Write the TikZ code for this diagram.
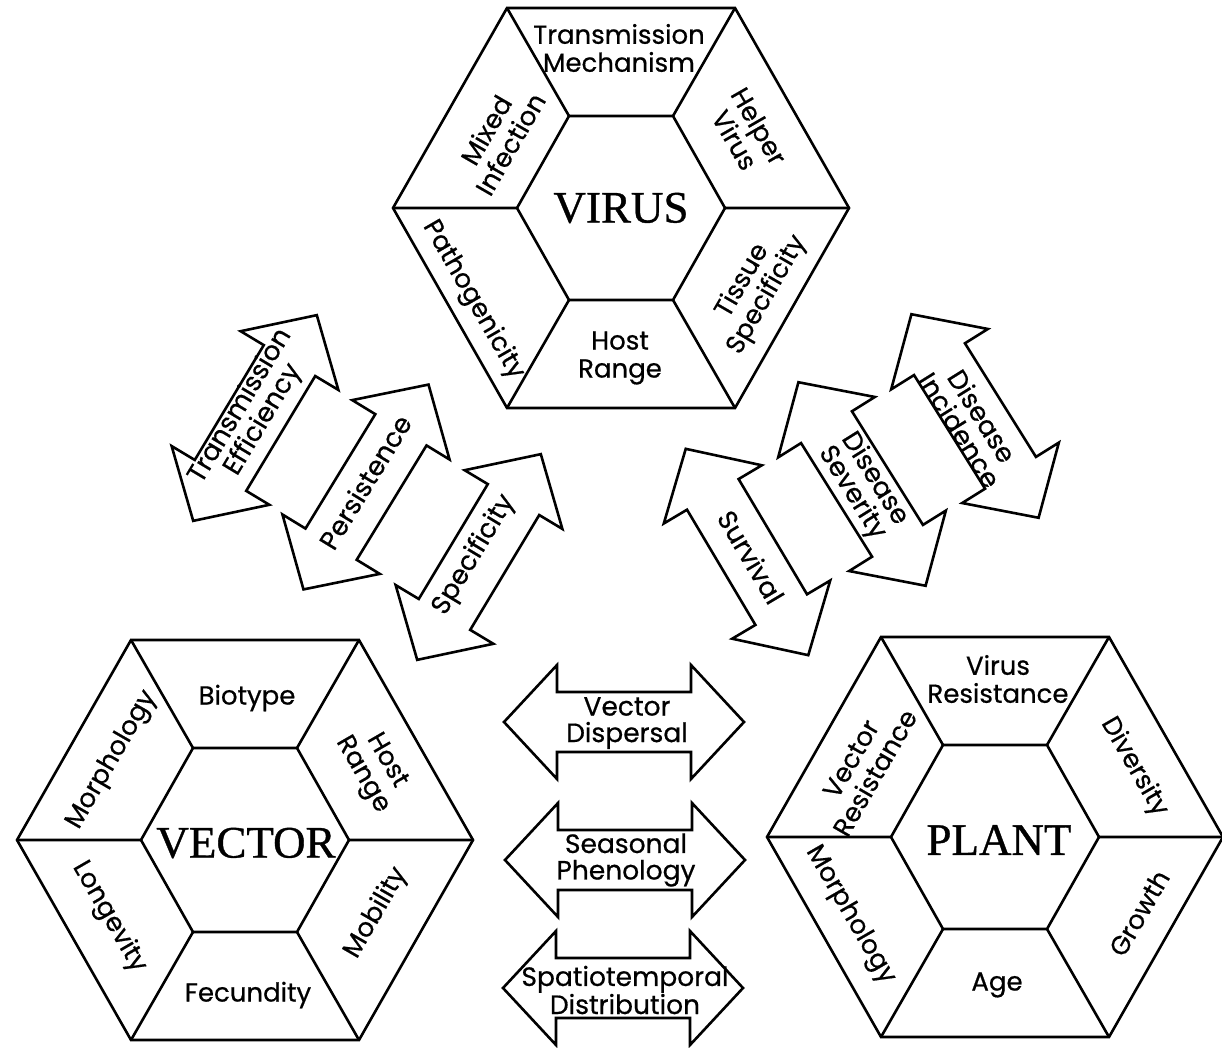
\documentclass[tikz,border=0pt]{standalone}
\usepackage{fontspec}
\newfontfamily\labfont[FakeBold=0.6]{Poppins}
\newfontfamily\bigfont[FakeBold=0.8]{Liberation Serif}
\newcommand\hexfigure{%
  \draw[hexline] (-228,0) -- (-114,-200) -- (114,-200) -- (228,0) -- (114,200) -- (-114,200) -- cycle;
  \draw[hexline] (-104,0) -- (-52,-92) -- (52,-92) -- (104,0) -- (52,92) -- (-52,92) -- cycle;
  \draw[hexline] (-228,0) -- (-104,0) (-114,-200) -- (-52,-92) (114,-200) -- (52,-92)
                 (228,0) -- (104,0) (114,200) -- (52,92) (-114,200) -- (-52,92);
}
\newcommand\dblarrowshape{%
  \draw[arrowbody] (-120,0) -- (-67,-57) -- (-67,-30) -- (67,-30) -- (67,-57) -- (120,0)
    -- (67,57) -- (67,30) -- (-67,30) -- (-67,57) -- cycle;
}
\begin{document}
\begin{tikzpicture}[x=1pt,y=-1pt,
  hexline/.style={line width=2.6pt, line join=miter},
  arrowbody/.style={line width=2.6pt, line join=miter, fill=white},
  lab/.style={font=\labfont\fontsize{26}{28}\selectfont, align=center, inner sep=0pt},
  alab/.style={font=\labfont\fontsize{26.5}{26.5}\selectfont, align=center, inner sep=0pt},
  titlelab/.style={font=\bigfont\fontsize{45}{45}\selectfont, inner sep=0pt}]
\useasboundingbox (0,0) rectangle (1222,1048);

% hexagon centres
\coordinate (virus) at (621,208);
\coordinate (vector) at (245,840);
\coordinate (plant) at (995,837);

\begin{scope}[shift={(virus)}]\hexfigure\end{scope}
\begin{scope}[shift={(vector)}]\hexfigure\end{scope}
\begin{scope}[shift={(plant)}]\hexfigure\end{scope}

% titles
\node[titlelab] (tvirus) at (621,208) {VIRUS};
\node[titlelab] (tvector) at (246,843) {VECTOR};
\node[titlelab] (tplant) at (999,840) {PLANT};

% VIRUS labels
\node[lab] (v1) at (619,48) {Transmission\\Mechanism};
\node[lab, rotate=60] (v2) at (498,137) {Mixed\\Infection};
\node[lab, rotate=-60] (v3) at (747,133) {Helper\\Virus};
\node[lab, rotate=-60] (v4) at (473,300) {Pathogenicity};
\node[lab, rotate=60] (v5) at (755,288) {Tissue\\Specificity};
\node[lab] (v6) at (620,358) {Host\\Range};

% VECTOR labels
\node[lab] (c1) at (247,698) {Biotype};
\node[lab, rotate=60] (c2) at (112,760) {Morphology};
\node[lab, rotate=-60] (c3) at (374,768) {Host\\Range};
\node[lab, rotate=-60] (c4) at (109,917) {Longevity};
\node[lab, rotate=60] (c5) at (376,913) {Mobility};
\node[lab] (c6) at (248,995) {Fecundity};

% PLANT labels
\node[lab] (p1) at (998,679) {Virus\\Resistance};
\node[lab, rotate=60] (p2) at (863,766) {Vector\\Resistance};
\node[lab, rotate=-60] (p3) at (1134,767) {Diversity};
\node[lab, rotate=-60] (p4) at (850,915) {Morphology};
\node[lab, rotate=60] (p5) at (1139,913) {Growth};
\node[lab] (p6) at (997,985) {Age};

% double arrows: centres
\coordinate (aTE) at (255,418);
\coordinate (aPE) at (366,487);
\coordinate (aSP) at (479,557);
\coordinate (aSU) at (747,552);
\coordinate (aDS) at (862,484);
\coordinate (aDI) at (975,416);
\coordinate (aVD) at (624,722);
\coordinate (aSE) at (625,860);
\coordinate (aST) at (623,988);

\begin{scope}[shift={(aTE)}, rotate=59]\dblarrowshape\end{scope}
\begin{scope}[shift={(aPE)}, rotate=58.6]\dblarrowshape\end{scope}
\begin{scope}[shift={(aSP)}, rotate=59]\dblarrowshape\end{scope}
\begin{scope}[shift={(aSU)}, rotate=-59.3]\dblarrowshape\end{scope}
\begin{scope}[shift={(aDS)}, rotate=-58]\dblarrowshape\end{scope}
\begin{scope}[shift={(aDI)}, rotate=-58]\dblarrowshape\end{scope}
\begin{scope}[shift={(aVD)}]\dblarrowshape\end{scope}
\begin{scope}[shift={(aSE)}]\dblarrowshape\end{scope}
\begin{scope}[shift={(aST)}]\dblarrowshape\end{scope}

% arrow labels
\node[alab, rotate=59] (lTE) at (252,413) {Transmission\\Efficiency};
\node[alab, rotate=58.6] (lPE) at (365,482) {Persistence};
\node[alab, rotate=59] (lSP) at (474,555) {Specificity};
\node[alab, rotate=-59.3] (lSU) at (751,557) {Survival};
\node[alab, rotate=-58] (lDS) at (863,486) {Disease\\Severity};
\node[alab, rotate=-58] (lDI) at (971,423) {Disease\\Incidence};
\node[alab] (lVD) at (627,723) {Vector\\Dispersal};
\node[alab] (lSE) at (626,860) {Seasonal\\Phenology};
\node[alab] (lST) at (625,990) {Spatiotemporal\\Distribution};
\end{tikzpicture}
\end{document}
